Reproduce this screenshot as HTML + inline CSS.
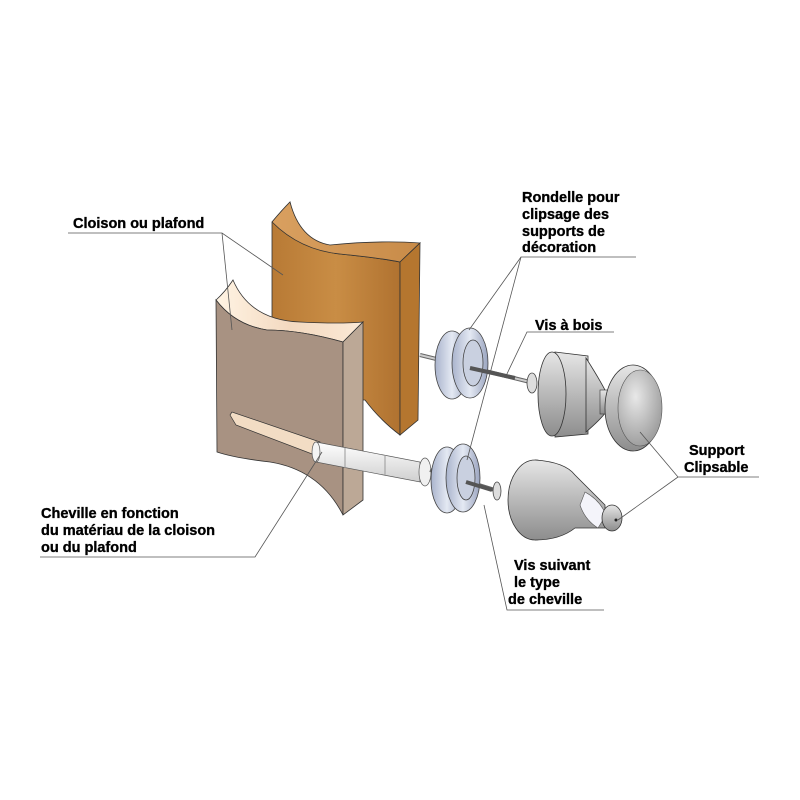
<!DOCTYPE html>
<html><head><meta charset="utf-8"><style>
html,body{margin:0;padding:0;background:#fff}
svg{display:block}
text{font-family:"Liberation Sans",Arial,sans-serif;font-weight:bold;font-size:14.5px;fill:#000;stroke:#000;stroke-width:0.35}
</style></head><body>
<svg width="800" height="800" viewBox="0 0 800 800" xmlns="http://www.w3.org/2000/svg">
<defs>
<linearGradient id="wood" x1="0" x2="1" y1="0" y2="0">
<stop offset="0" stop-color="#b87a35"/><stop offset="0.5" stop-color="#c98d45"/><stop offset="1" stop-color="#b07230"/></linearGradient>
<linearGradient id="woodtop" x1="0" x2="1"><stop offset="0" stop-color="#d9a060"/><stop offset="1" stop-color="#c88b48"/></linearGradient>
<linearGradient id="ftop" x1="0" x2="1"><stop offset="0" stop-color="#fff4e4"/><stop offset="0.5" stop-color="#f3d9c0"/><stop offset="1" stop-color="#fbe9d6"/></linearGradient>
<linearGradient id="metal" x1="0" x2="0" y1="0" y2="1"><stop offset="0" stop-color="#e6e6e6"/><stop offset="0.45" stop-color="#bdbdbd"/><stop offset="1" stop-color="#8d8d8d"/></linearGradient>
<radialGradient id="cap" cx="0.4" cy="0.35" r="0.7"><stop offset="0" stop-color="#e8e8e8"/><stop offset="1" stop-color="#9a9a9a"/></radialGradient>
<linearGradient id="ring" x1="0" x2="1"><stop offset="0" stop-color="#a9b3cc"/><stop offset="0.5" stop-color="#e4e9f3"/><stop offset="1" stop-color="#9aa4bf"/></linearGradient>
<linearGradient id="dowel" x1="0" x2="0" y1="0" y2="1"><stop offset="0" stop-color="#fff"/><stop offset="1" stop-color="#cfcfcf"/></linearGradient>
</defs>

<!-- back wood panel -->
<path d="M272,222 Q282,210 290,202 Q300,250 340,254 Q380,258 400,262 L400,435 Q380,420 365,400 L272,400 Z" fill="url(#wood)" stroke="#333" stroke-width="0.8"/>
<path d="M272,222 Q282,210 290,202 Q300,240 330,245 Q380,240 420,243 L400,262 Q380,258 340,254 Q300,250 272,222 Z" fill="url(#woodtop)" stroke="#333" stroke-width="0.8"/>
<path d="M400,262 L420,243 L418,420 L400,435 Z" fill="#b5762f" stroke="#333" stroke-width="0.8"/>

<!-- front panel -->
<path d="M216,300 Q225,292 233,280 Q250,320 300,322 Q340,324 363,322 L343,342 Q300,330 267,330 Q235,325 216,300 Z" fill="url(#ftop)" stroke="#333" stroke-width="0.8"/>
<path d="M216,300 Q235,325 267,330 Q300,330 343,342 L343,515 Q320,470 270,462 Q235,458 217,452 Z" fill="#a89282" stroke="#333" stroke-width="0.8"/>
<path d="M343,342 L363,322 L363,500 L343,515 Z" fill="#bca896" stroke="#333" stroke-width="0.8"/>
<path d="M230,415 L236,425 L320,457 L320,442 L232,412 Z" fill="#f2dcc4" stroke="#333" stroke-width="0.7"/>

<!-- dowel -->
<path d="M316,442 L420,462 L420,482 L316,462 Z" fill="url(#dowel)" stroke="#555" stroke-width="0.7"/>
<ellipse cx="316" cy="452" rx="4" ry="10" fill="#f4f4f4" stroke="#555" stroke-width="0.7"/>
<ellipse cx="425" cy="472" rx="6" ry="14" fill="#f0f0f0" stroke="#555" stroke-width="0.7"/>
<line x1="345" y1="448" x2="345" y2="468" stroke="#999"/><line x1="385" y1="455" x2="385" y2="475" stroke="#999"/>

<!-- top screw -->
<line x1="420" y1="355" x2="530" y2="382" stroke="#666" stroke-width="4"/>
<line x1="420" y1="355" x2="530" y2="382" stroke="#ccc" stroke-width="2"/>
<ellipse cx="532" cy="383" rx="5" ry="10" fill="#ddd" stroke="#444" stroke-width="0.8"/>
<ellipse cx="452" cy="365" rx="17" ry="34" fill="url(#ring)" stroke="#444" stroke-width="0.8"/>
<ellipse cx="470" cy="363" rx="18" ry="35" fill="url(#ring)" stroke="#444" stroke-width="0.8"/>
<ellipse cx="473" cy="363" rx="10" ry="23" fill="#c9d0e0" stroke="#444" stroke-width="0.8"/>
<line x1="470" y1="368" x2="515" y2="378" stroke="#555" stroke-width="4"/>

<!-- bottom screw & washer -->
<line x1="430" y1="470" x2="495" y2="490" stroke="#666" stroke-width="4"/>
<ellipse cx="497" cy="491" rx="4" ry="9" fill="#ddd" stroke="#444" stroke-width="0.8"/>
<ellipse cx="447" cy="480" rx="16" ry="33" fill="url(#ring)" stroke="#444" stroke-width="0.8"/>
<ellipse cx="463" cy="478" rx="17" ry="34" fill="url(#ring)" stroke="#444" stroke-width="0.8"/>
<ellipse cx="466" cy="478" rx="9" ry="22" fill="#c9d0e0" stroke="#444" stroke-width="0.8"/>
<line x1="466" y1="482" x2="492" y2="490" stroke="#555" stroke-width="4"/>

<!-- knob 1 -->
<path d="M555,352 L588,356 L588,434 L555,437 Z" fill="url(#metal)" stroke="#333" stroke-width="0.8"/>
<ellipse cx="552" cy="394" rx="14" ry="42" fill="url(#metal)" stroke="#333" stroke-width="0.8"/>
<path d="M586,358 Q600,380 606,392 L606,412 Q600,420 586,432 Z" fill="url(#metal)" stroke="#333" stroke-width="0.8"/>
<rect x="600" y="390" width="14" height="24" fill="url(#metal)" stroke="#333" stroke-width="0.6"/>
<ellipse cx="633" cy="408" rx="28" ry="43" fill="url(#metal)" stroke="#333" stroke-width="0.8"/>
<ellipse cx="640" cy="408" rx="22" ry="38" fill="url(#cap)" stroke="#555" stroke-width="0.6"/>

<!-- knob 2 -->
<ellipse cx="535" cy="500" rx="27" ry="40" fill="url(#metal)" stroke="#333" stroke-width="0.8"/>
<path d="M535,460 Q565,462 575,475 L605,505 L605,528 L575,528 Q560,540 535,540" fill="url(#metal)" stroke="#333" stroke-width="0.8"/>
<path d="M585,492 Q600,500 606,515 L598,528 Q585,520 580,505 Z" fill="#f4f4fa" stroke="#555" stroke-width="0.6"/>
<ellipse cx="612" cy="518" rx="10" ry="13" fill="url(#metal)" stroke="#333" stroke-width="0.8"/>
<circle cx="616" cy="520" r="1.5" fill="#222"/>

<g stroke="#555" stroke-width="0.8" fill="none">
<polyline points="68,233 222,233 283,275"/>
<line x1="222" y1="233" x2="232" y2="330"/>
<polyline points="636,257 521,257 469,330"/>
<line x1="521" y1="257" x2="467" y2="460"/>
<polyline points="614,332 527,332 505,378"/>
<polyline points="40,557 255,557 322,452"/>
<polyline points="759,477 678,477 640,432"/>
<line x1="678" y1="477" x2="618" y2="520"/>
<polyline points="604,610 507,610 484,505"/>
</g>

<text x="73" y="228">Cloison ou plafond</text>
<text x="522" y="202">Rondelle pour</text>
<text x="522" y="219">clipsage des</text>
<text x="522" y="236">supports de</text>
<text x="522" y="252">décoration</text>
<text x="535" y="330">Vis à bois</text>
<text x="689" y="455">Support</text>
<text x="684" y="472">Clipsable</text>
<text x="41" y="518">Cheville en fonction</text>
<text x="41" y="535">du matériau de la cloison</text>
<text x="41" y="552">ou du plafond</text>
<text x="514" y="570">Vis suivant</text>
<text x="514" y="587">le type</text>
<text x="508" y="604">de cheville</text>
</svg>
</body></html>
